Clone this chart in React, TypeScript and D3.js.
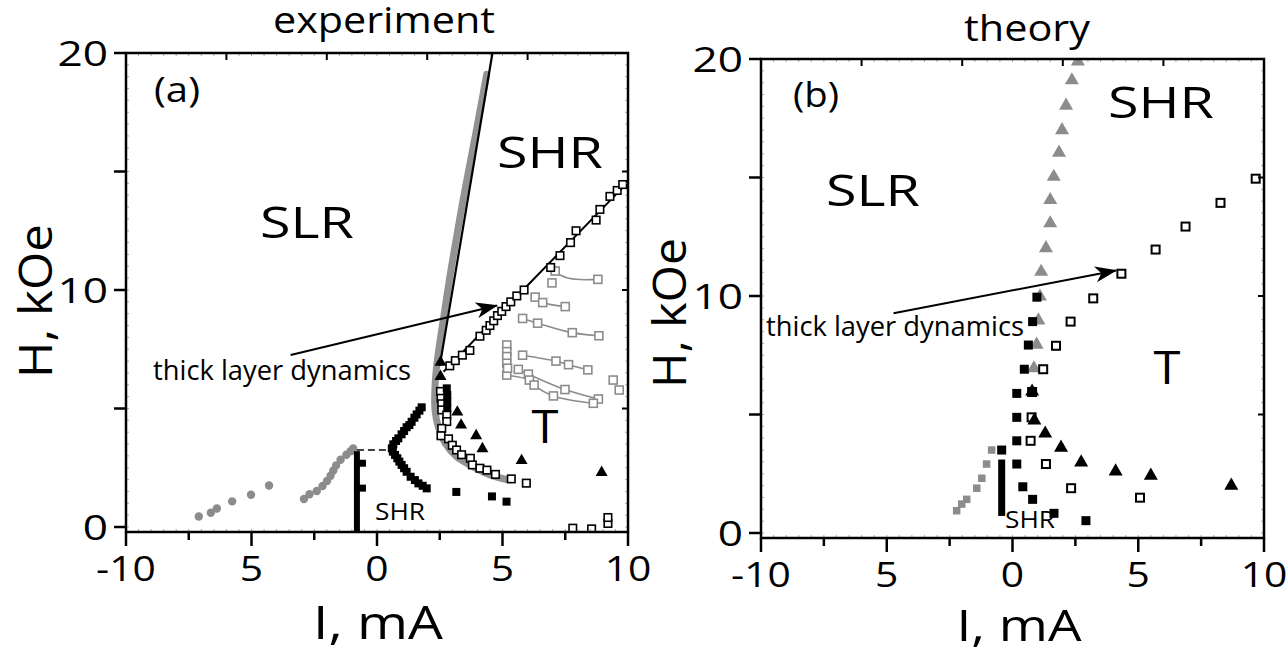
import React from 'react';
import * as d3 from 'd3';

type P = [number, number];

// ---------------- Panel (a): experiment ----------------
const aGrayCircles: P[] = [
  [-7.1, 0.44], [-6.62, 0.6], [-6.38, 0.78], [-5.77, 1.08], [-5.02, 1.36], [-4.3, 1.75],
  [-2.91, 1.18], [-2.69, 1.38], [-2.4, 1.52], [-2.17, 1.73], [-1.99, 1.94], [-1.85, 2.16],
  [-1.74, 2.38], [-1.63, 2.6], [-1.45, 2.84], [-1.22, 3.05], [-1.05, 3.2], [-0.95, 3.31],
];
const aGrayBand: P[] = [
  [4.37, 19.1], [3.96, 16.75], [3.43, 13.8], [2.97, 11.0], [2.64, 8.73], [2.4, 7.0],
  [2.31, 5.9], [2.31, 4.95], [2.44, 4.23], [2.71, 3.55], [3.17, 2.97], [3.84, 2.54],
  [4.5, 2.2], [5.17, 2.0],
];
const aSteepLine: P[] = [[2.5, 6.8], [4.6, 20.0]];
const aFitLine: P[] = [[2.65, 6.55], [10.0, 14.55]];
const aShrBar: P[] = [[-0.8, -0.2], [-0.8, 3.2]];
const aShrBarBumps: P[] = [[-0.58, 2.69], [-0.58, 1.64]];
const aDashed: P[] = [[-0.8, 3.25], [0.55, 3.25]];
const aBlackSquares: P[] = [
  [1.78, 5.05], [1.69, 4.91], [1.58, 4.75], [1.49, 4.61], [1.38, 4.44], [1.29, 4.3],
  [1.18, 4.21], [1.08, 4.05], [0.98, 3.91], [0.85, 3.74], [0.76, 3.63], [0.65, 3.49],
  [0.59, 3.32], [0.63, 3.18], [0.72, 3.04], [0.81, 2.9], [0.89, 2.76], [0.98, 2.62],
  [1.08, 2.48], [1.18, 2.33], [1.34, 2.12], [1.51, 1.98], [1.65, 1.84], [1.82, 1.74],
  [1.98, 1.63], [3.16, 1.48], [4.58, 1.29], [5.16, 1.07],
  [2.78, 5.85], [2.8, 5.57], [2.8, 5.29], [2.8, 5.01],
];
const aBlackTriangles: P[] = [
  [2.53, 6.95], [2.53, 6.35], [3.2, 4.85], [3.35, 4.3], [3.95, 3.85], [4.2, 3.3], [5.76, 2.8], [8.95, 2.3],
];
const aOpenSquaresFit: P[] = [
  [2.9, 6.8], [3.12, 7.02], [3.4, 7.25], [3.7, 7.45], [4.1, 8.05], [4.35, 8.3], [4.5, 8.5],
  [4.65, 8.7], [4.8, 8.92], [4.97, 9.1], [5.14, 9.3], [5.33, 9.5], [5.57, 9.75], [5.86, 10.0],
  [6.92, 10.95], [7.29, 11.45], [7.71, 12.0], [7.93, 12.5], [8.73, 12.95], [8.88, 13.4],
  [9.28, 13.95], [9.57, 14.2], [9.79, 14.45],
];
const aOpenSquaresLower: P[] = [
  [2.53, 5.72], [2.55, 5.43], [2.58, 5.2], [2.58, 4.94], [2.78, 4.73], [2.78, 4.45], [2.58, 4.16],
  [2.55, 3.85], [2.85, 3.72], [3.0, 3.45], [3.17, 3.25], [3.37, 3.05], [3.72, 2.9], [3.8, 2.62],
  [4.1, 2.48], [4.38, 2.4], [4.72, 2.22], [5.35, 2.03], [5.95, 1.85],
];
const aOpenSquaresBottom: P[] = [[7.8, -0.05], [8.55, -0.08], [9.2, 0.15], [9.2, 0.4]];
const aGrayCurveSquares: P[][] = [
  [[7.1, 10.8], [6.97, 10.3], [8.8, 10.45]],
  [[6.3, 9.7], [6.6, 9.47], [7.5, 9.3]],
  [[5.8, 8.8], [6.4, 8.6], [7.78, 8.2], [8.84, 8.07]],
  [[5.8, 7.25], [7.13, 7.0], [7.63, 6.85], [8.4, 6.63]],
  [[5.63, 6.65], [6.03, 6.45], [7.49, 5.8], [8.82, 5.4]],
  [[5.17, 6.41], [6.07, 6.2], [6.26, 5.99], [7.03, 5.53], [8.62, 5.22]],
];
const aGrayCurveLines: P[][] = [
  [[7.1, 10.75], [7.55, 10.52], [8.1, 10.44], [8.8, 10.45]],
  [[6.3, 9.7], [6.6, 9.47], [7.5, 9.3]],
  [[5.8, 8.8], [6.4, 8.6], [7.78, 8.2], [8.84, 8.07]],
  [[5.8, 7.25], [7.13, 7.0], [7.63, 6.85], [8.4, 6.63]],
  [[5.63, 6.65], [6.03, 6.45], [7.49, 5.8], [8.82, 5.4]],
  [[5.17, 6.41], [6.07, 6.2], [6.26, 5.99], [7.03, 5.53], [8.62, 5.22]],
];
const aGraySquaresExtra: P[] = [
  [5.17, 7.68], [5.17, 7.4], [5.17, 7.19], [5.17, 6.91], [5.2, 6.7], [9.41, 6.2], [9.65, 5.78],
];
const aArrow: P[] = [[-3.44, 7.26], [4.78, 9.35]];

// ---------------- Panel (b): theory ----------------
const bGrayTriangles: P[] = [
  [2.6, 19.9], [2.36, 19.1], [2.13, 18.03], [1.97, 17.0], [1.85, 16.05], [1.64, 15.03], [1.5, 14.05],
  [1.5, 13.07], [1.33, 12.02], [1.14, 11.02], [1.09, 9.98], [1.03, 8.97], [0.96, 7.95], [0.85, 6.95],
];
const bBlackTriangles: P[] = [
  [0.78, 5.97], [0.87, 4.75], [1.3, 4.2], [1.93, 3.6], [2.73, 2.98], [4.1, 2.6], [5.5, 2.42], [8.7, 2.0],
];
const bBlackSquares: P[] = [
  [0.97, 9.95], [0.8, 8.92], [0.63, 7.93], [0.47, 6.91], [0.17, 5.89], [0.17, 4.88], [0.17, 3.89],
  [-0.43, 3.5], [0.17, 2.91], [0.41, 1.95], [0.8, 1.42], [1.65, 0.83], [2.92, 0.52],
];
const bOpenSquares: P[] = [
  [9.67, 14.95], [8.27, 13.93], [6.88, 12.93], [5.69, 11.96], [4.33, 10.94], [3.21, 9.9], [2.31, 8.92],
  [1.73, 7.9], [1.22, 6.91], [0.78, 5.95], [0.76, 4.88], [0.72, 3.89], [1.33, 2.91], [2.33, 1.89], [5.07, 1.49],
];
const bGraySquares: P[] = [
  [-0.83, 3.5], [-1.03, 2.91], [-1.22, 2.31], [-1.42, 1.89], [-1.82, 1.42], [-2.02, 1.22], [-2.22, 0.94],
];
const bShrBar: P[] = [[-0.43, 0.72], [-0.43, 3.1]];
const bArrow: P[] = [[-4.73, 9.27], [4.12, 11.08]];

// ---------------- Axes ----------------
const xDomain: P = [-10, 10];
const yDomain: P = [0, 20];
const xTickValues = [-10, -5, 0, 5, 10];
const xTickLabels = ['-10', '5', '0', '5', '10'];
const xMidTicks = [-7.5, -2.5, 2.5, 7.5];
const yTickValues = [0, 10, 20];
const yTickLabels = ['0', '10', '20'];
const yMidTicks = [5, 15];
const topTicks = [-6, -2, 2, 6];
const rightTicks = [5, 10, 15];

const FONT = '"Open Sans", "DejaVu Sans", sans-serif';
const GRAY = '#8c8c8c';

type Geo = { left: number; right: number; top: number; y0: number; bottom: number };

function Axes({ g, x, y }: { g: Geo; x: d3.ScaleLinear<number, number>; y: d3.ScaleLinear<number, number> }) {
  const minorX = d3.range(-10, 10.001, 0.5);
  const minorY = d3.range(0, 20.001, 0.5);
  const els: React.ReactNode[] = [];
  minorX.forEach((v, i) => {
    els.push(<line key={'mb' + i} x1={x(v)} x2={x(v)} y1={g.bottom} y2={g.bottom - 3} stroke="#aaa" strokeWidth={1} />);
    els.push(<line key={'mt' + i} x1={x(v)} x2={x(v)} y1={g.top} y2={g.top + 3} stroke="#aaa" strokeWidth={1} />);
  });
  minorY.forEach((v, i) => {
    els.push(<line key={'ml' + i} x1={g.left} x2={g.left + 3} y1={y(v)} y2={y(v)} stroke="#aaa" strokeWidth={1} />);
    els.push(<line key={'mr' + i} x1={g.right} x2={g.right - 3} y1={y(v)} y2={y(v)} stroke="#aaa" strokeWidth={1} />);
  });
  xTickValues.forEach((v, i) => {
    els.push(<line key={'xt' + i} x1={x(v)} x2={x(v)} y1={g.bottom} y2={g.bottom + 14} stroke="black" strokeWidth={2.5} />);
    els.push(
      <text key={'xl' + i} transform={`translate(${x(v)},${g.bottom + 49}) scale(1.2,1)`} textAnchor="middle"
        fontSize={34} fontFamily={FONT} fill="black">{xTickLabels[i]}</text>
    );
  });
  xMidTicks.forEach((v, i) => {
    els.push(<line key={'xm' + i} x1={x(v)} x2={x(v)} y1={g.bottom} y2={g.bottom + 8} stroke="black" strokeWidth={2.5} />);
  });
  yTickValues.forEach((v, i) => {
    els.push(<line key={'yt' + i} x1={g.left} x2={g.left - 12} y1={y(v)} y2={y(v)} stroke="black" strokeWidth={2.5} />);
    els.push(
      <text key={'yl' + i} transform={`translate(${g.left - 18},${y(v) + 12.5}) scale(1.3,1)`} textAnchor="end"
        fontSize={34} fontFamily={FONT} fill="black">{yTickLabels[i]}</text>
    );
  });
  yMidTicks.forEach((v, i) => {
    els.push(<line key={'ym' + i} x1={g.left} x2={g.left - 12} y1={y(v)} y2={y(v)} stroke="black" strokeWidth={2.5} />);
  });
  topTicks.forEach((v, i) => {
    els.push(<line key={'tt' + i} x1={x(v)} x2={x(v)} y1={g.top} y2={g.top + 7} stroke="black" strokeWidth={2} />);
  });
  rightTicks.forEach((v, i) => {
    els.push(<line key={'rt' + i} x1={g.right} x2={g.right - 6} y1={y(v)} y2={y(v)} stroke="black" strokeWidth={2} />);
  });
  els.push(<rect key="frame" x={g.left} y={g.top} width={g.right - g.left} height={g.bottom - g.top}
    fill="none" stroke="black" strokeWidth={2.5} />);
  return <g>{els}</g>;
}

function Squares({ data, x, y, s, fill, stroke, sw }: any) {
  return <g>{(data as P[]).map((d, i) => (
    <rect key={i} x={x(d[0]) - s / 2} y={y(d[1]) - s / 2} width={s} height={s} fill={fill} stroke={stroke} strokeWidth={sw} />
  ))}</g>;
}
function Triangles({ data, x, y, side, fill }: any) {
  const path = d3.symbol().type(d3.symbolTriangle).size((Math.sqrt(3) / 4) * side * side)() as string;
  return <g>{(data as P[]).map((d, i) => (
    <path key={i} d={path} transform={`translate(${x(d[0])},${y(d[1])})`} fill={fill} />
  ))}</g>;
}
function Circles({ data, x, y, r, fill }: any) {
  return <g>{(data as P[]).map((d, i) => <circle key={i} cx={x(d[0])} cy={y(d[1])} r={r} fill={fill} />)}</g>;
}

function Txt({ x, y, text, size, len, anchor = 'middle', rotate = 0 }: any) {
  return (
    <text x={x} y={y} fontSize={size} textAnchor={anchor} fontFamily={FONT} fill="black"
      textLength={len} lengthAdjust={len ? 'spacingAndGlyphs' : undefined}
      transform={rotate ? `rotate(${rotate},${x},${y})` : undefined}>{text}</text>
  );
}

function PanelA() {
  const g: Geo = { left: 126, right: 628, top: 53, y0: 527, bottom: 532 };
  const x = d3.scaleLinear().domain(xDomain).range([g.left, g.right]);
  const y = d3.scaleLinear().domain(yDomain).range([g.y0, g.top]);
  const line = d3.line<P>().x(d => x(d[0])).y(d => y(d[1]));
  const smooth = d3.line<P>().x(d => x(d[0])).y(d => y(d[1])).curve(d3.curveCatmullRom.alpha(0.5));
  return (
    <g>
      <defs>
        <clipPath id="clipA"><rect x={g.left} y={g.top} width={g.right - g.left} height={g.bottom - g.top} /></clipPath>
      </defs>
      <g clipPath="url(#clipA)">
        <path d={smooth(aGrayBand) as string} fill="none" stroke={GRAY} strokeWidth={7} strokeLinecap="round" opacity={0.95} />
        <Circles data={aGrayCircles} x={x} y={y} r={4.2} fill={GRAY} />
        {aGrayCurveLines.map((c, i) => (
          <path key={i} d={smooth(c) as string} fill="none" stroke={GRAY} strokeWidth={1.6} />
        ))}
        {aGrayCurveSquares.map((c, i) => (
          <Squares key={i} data={c} x={x} y={y} s={8} fill="white" stroke={GRAY} sw={1.6} />
        ))}
        <Squares data={aGraySquaresExtra} x={x} y={y} s={8} fill="white" stroke={GRAY} sw={1.6} />
        <path d={line(aSteepLine) as string} stroke="black" strokeWidth={2.2} fill="none" />
        <path d={line(aFitLine) as string} stroke="black" strokeWidth={2} fill="none" />
        <Squares data={aOpenSquaresFit} x={x} y={y} s={7.5} fill="white" stroke="black" sw={1.6} />
        <Squares data={aOpenSquaresLower} x={x} y={y} s={7.5} fill="white" stroke="black" sw={1.6} />
        <Squares data={aOpenSquaresBottom} x={x} y={y} s={7.5} fill="white" stroke="black" sw={1.6} />
        <Squares data={aBlackSquares} x={x} y={y} s={8} fill="black" stroke="none" sw={0} />
        <Triangles data={aBlackTriangles} x={x} y={y} side={12} fill="black" />
        <path d={line(aShrBar) as string} stroke="black" strokeWidth={6} fill="none" />
        <Squares data={aShrBarBumps} x={x} y={y} s={7} fill="black" stroke="none" sw={0} />
        <path d={line(aDashed) as string} stroke="black" strokeWidth={1.5} strokeDasharray="7,4" fill="none" />
      </g>
      <Axes g={g} x={x} y={y} />
      <path d={line(aArrow) as string} stroke="black" strokeWidth={2} fill="none" markerEnd="url(#arrowHead)" />
      <Txt x={384} y={33} text="experiment" size={37} len={222} />
      <Txt x={177} y={102} text="(a)" size={34} len={46} />
      <Txt x={307} y={238} text="SLR" size={44} len={94} />
      <Txt x={550} y={168} text="SHR" size={44} len={106} />
      <Txt x={545} y={443} text="T" size={46} len={27} />
      <Txt x={400} y={520} text="SHR" size={24} len={50} />
      <Txt x={282} y={380} text="thick layer dynamics" size={27} len={258} />
      <Txt x={52} y={301} text="H, kOe" size={46} len={154} rotate={-90} />
      <Txt x={378} y={639} text="I, mA" size={45} len={130} />
    </g>
  );
}

function PanelB() {
  const g: Geo = { left: 761, right: 1264, top: 59, y0: 533, bottom: 538 };
  const x = d3.scaleLinear().domain(xDomain).range([g.left, g.right]);
  const y = d3.scaleLinear().domain(yDomain).range([g.y0, g.top]);
  const line = d3.line<P>().x(d => x(d[0])).y(d => y(d[1]));
  return (
    <g>
      <defs>
        <clipPath id="clipB"><rect x={g.left} y={g.top} width={g.right - g.left} height={g.bottom - g.top} /></clipPath>
      </defs>
      <g clipPath="url(#clipB)">
        <Triangles data={bGrayTriangles} x={x} y={y} side={14} fill={GRAY} />
        <Squares data={bGraySquares} x={x} y={y} s={7.5} fill={GRAY} stroke="none" sw={0} />
        <Squares data={bOpenSquares} x={x} y={y} s={8} fill="white" stroke="black" sw={2} />
        <Squares data={bBlackSquares} x={x} y={y} s={9} fill="black" stroke="none" sw={0} />
        <Triangles data={bBlackTriangles} x={x} y={y} side={14} fill="black" />
        <path d={line(bShrBar) as string} stroke="black" strokeWidth={7} fill="none" />
      </g>
      <Axes g={g} x={x} y={y} />
      <path d={line(bArrow) as string} stroke="black" strokeWidth={2} fill="none" markerEnd="url(#arrowHead)" />
      <Txt x={1027} y={41} text="theory" size={37} len={126} />
      <Txt x={816} y={107} text="(b)" size={34} len={46} />
      <Txt x={873} y={206} text="SLR" size={44} len={94} />
      <Txt x={1161} y={118} text="SHR" size={44} len={106} />
      <Txt x={1167} y={384} text="T" size={46} len={27} />
      <Txt x={1030} y={528} text="SHR" size={24} len={50} />
      <Txt x={895} y={336} text="thick layer dynamics" size={27} len={258} />
      <Txt x={686} y={313} text="H, kOe" size={46} len={150} rotate={-90} />
      <Txt x={1019} y={641} text="I, mA" size={44} len={125} />
    </g>
  );
}

export default function App() {
  return (
    <svg width={1287} height={654} style={{ position: 'absolute', left: 0, top: 0, background: 'white' }}>
      <defs>
        <marker id="arrowHead" viewBox="0 0 22 16" refX="21" refY="8" markerWidth="22" markerHeight="16"
          orient="auto" markerUnits="userSpaceOnUse">
          <path d="M0,0 L22,8 L0,16 L6,8 Z" fill="black" />
        </marker>
      </defs>
      <rect x={0} y={0} width={1287} height={654} fill="white" />
      <PanelA />
      <PanelB />
    </svg>
  );
}
